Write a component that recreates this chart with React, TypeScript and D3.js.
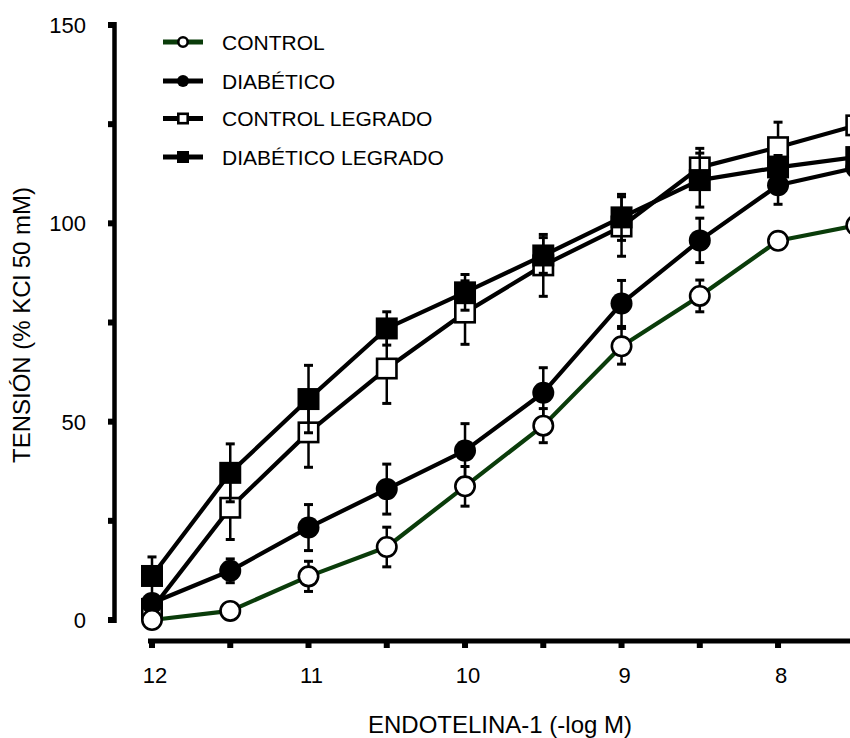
import React from "react";
import * as d3 from "d3";

const concentrations = [12, 11.5, 11, 10.5, 10, 9.5, 9, 8.5, 8, 7.5];

const controlValues = [0, 2.3, 11, 18.4, 33.7, 49, 69, 81.7, 95.6, 99.5];
const controlErrors = [0.5, 1, 3.8, 5, 5, 4.3, 4.5, 4, 2, 2];

const diabeticoValues = [4.3, 12.4, 23.3, 33, 42.7, 57.3, 79.8, 95.7, 109.6, 114];
const diabeticoErrors = [1.5, 3, 5.8, 6.3, 6.8, 6.3, 5.8, 5.6, 4.8, 3];

const controlLegradoValues = [2.8, 28.3, 47.3, 63.4, 77.5, 89.4, 99.2, 114.1, 119.2, 124.7];
const controlLegradoErrors = [1, 8, 8.8, 8.8, 8, 7.8, 7.5, 4.8, 6.3, 3];

const diabeticoLegradoValues = [11.1, 37.1, 55.7, 73.5, 82.6, 91.9, 101.5, 110.9, 114.1, 116.7];
const diabeticoLegradoErrors = [4.8, 7.3, 8.5, 4.2, 4.5, 4.5, 5.8, 6.8, 3, 3];

const seriesNames = ["CONTROL", "DIABÉTICO", "CONTROL LEGRADO", "DIABÉTICO LEGRADO"];

const yTickValues = [0, 25, 50, 75, 100, 125, 150];
const yTickLabels = ["0", "", "50", "", "100", "", "150"];
const xTickValues = [12, 11.5, 11, 10.5, 10, 9.5, 9, 8.5, 8];
const xTickLabels = ["12", "", "11", "", "10", "", "9", "", "8"];

const xTitle = "ENDOTELINA-1 (-log M)";
const yTitle = "TENSIÓN (% KCl 50 mM)";

type MarkerType = "circleOpen" | "circleFilled" | "squareOpen" | "squareFilled";

const GREEN = "#0a3c0a";

const series = [
  { name: seriesNames[0], values: controlValues, errors: controlErrors, marker: "circleOpen" as MarkerType, color: GREEN },
  { name: seriesNames[1], values: diabeticoValues, errors: diabeticoErrors, marker: "circleFilled" as MarkerType, color: "#000" },
  { name: seriesNames[2], values: controlLegradoValues, errors: controlLegradoErrors, marker: "squareOpen" as MarkerType, color: "#000" },
  { name: seriesNames[3], values: diabeticoLegradoValues, errors: diabeticoLegradoErrors, marker: "squareFilled" as MarkerType, color: "#000" },
];

const drawOrder = [2, 3, 1, 0];

function Marker({ type, cx, cy, size }: { type: MarkerType; cx: number; cy: number; size: number }) {
  const r = size / 2;
  if (type === "circleOpen")
    return <circle cx={cx} cy={cy} r={r - 1.3} fill="#fff" stroke="#000" strokeWidth={2.6} />;
  if (type === "circleFilled") return <circle cx={cx} cy={cy} r={r} fill="#000" />;
  if (type === "squareOpen")
    return (
      <rect x={cx - r + 1.3} y={cy - r + 1.3} width={size - 2.6} height={size - 2.6} fill="#fff" stroke="#000" strokeWidth={2.6} />
    );
  return <rect x={cx - r} y={cy - r} width={size} height={size} fill="#000" />;
}

export default function App() {
  const x = d3.scaleLinear().domain([12, 7.5]).range([152, 856.3]);
  const y = d3.scaleLinear().domain([0, 150]).range([620, 25]);
  const line = d3
    .line<number>()
    .x((_, i) => x(concentrations[i]))
    .y((d) => y(d));

  const font = "'Liberation Sans', Arial, Helvetica, sans-serif";
  const legendRows = [42, 81, 118.5, 157];

  return (
    <svg
      width={850}
      height={738}
      style={{ position: "absolute", left: 0, top: 0, background: "#fff" }}
      fontFamily={font}
    >
      {/* Y axis */}
      <line x1={114.5} x2={114.5} y1={22} y2={623} stroke="#000" strokeWidth={4.5} />
      {yTickValues.map((v, i) => (
        <g key={"yt" + i}>
          <rect x={108} y={y(v) - 3} width={7} height={6} fill="#000" />
          {yTickLabels[i] && (
            <text x={86} y={y(v)} dy="0.36em" textAnchor="end" fontSize={22} fill="#000">
              {yTickLabels[i]}
            </text>
          )}
        </g>
      ))}
      {/* X axis */}
      <line x1={148} x2={850} y1={641} y2={641} stroke="#000" strokeWidth={5} />
      {xTickValues.map((v, i) => (
        <g key={"xt" + i}>
          <rect x={x(v) - 3} y={641} width={6} height={7} fill="#000" />
          {xTickLabels[i] && (
            <text x={x(v) + 3} y={683} textAnchor="middle" fontSize={22} fill="#000">
              {xTickLabels[i]}
            </text>
          )}
        </g>
      ))}
      <text x={500} y={733} textAnchor="middle" fontSize={24} fill="#000">
        {xTitle}
      </text>
      <text transform="translate(30,325) rotate(-90)" textAnchor="middle" fontSize={24} fill="#000">
        {yTitle}
      </text>

      {/* Series */}
      {drawOrder.map((si) => {
        const s = series[si];
        return (
          <g key={"s" + si}>
            <path d={line(s.values) || ""} fill="none" stroke={s.color} strokeWidth={4.2} strokeLinejoin="round" />
            {s.values.map((v, i) => {
              const cx = x(concentrations[i]);
              const yTop = y(v + s.errors[i]);
              const yBot = y(v - s.errors[i]);
              return (
                <g key={"e" + i}>
                  <line x1={cx} x2={cx} y1={yTop} y2={yBot} stroke="#000" strokeWidth={2.5} />
                  <line x1={cx - 4.5} x2={cx + 4.5} y1={yTop} y2={yTop} stroke="#000" strokeWidth={3} />
                  <line x1={cx - 4.5} x2={cx + 4.5} y1={yBot} y2={yBot} stroke="#000" strokeWidth={3} />
                </g>
              );
            })}
            {s.values.map((v, i) => (
              <Marker key={"m" + i} type={s.marker} cx={x(concentrations[i])} cy={y(v)} size={22} />
            ))}
          </g>
        );
      })}

      {/* Legend */}
      {series.map((s, i) => (
        <g key={"l" + i}>
          <line x1={163} x2={203} y1={legendRows[i]} y2={legendRows[i]} stroke={s.color} strokeWidth={5} />
          <Marker type={s.marker} cx={183} cy={legendRows[i]} size={12} />
          <text x={222} y={legendRows[i]} dy="0.36em" fontSize={21} fill="#000">
            {s.name}
          </text>
        </g>
      ))}
    </svg>
  );
}
